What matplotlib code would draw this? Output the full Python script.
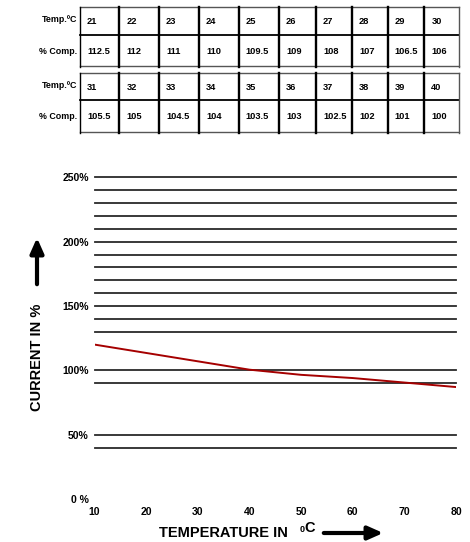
import matplotlib
matplotlib.use("Agg")
import matplotlib.pyplot as plt

plt.rcParams['font.family'] = ['Liberation Sans', 'DejaVu Sans']
plt.rcParams['font.weight'] = 'bold'

# compensation tables
temps_a = ['21', '22', '23', '24', '25', '26', '27', '28', '29', '30']
comp_a = ['112.5', '112', '111', '110', '109.5', '109', '108', '107', '106.5', '106']
temps_b = ['31', '32', '33', '34', '35', '36', '37', '38', '39', '40']
comp_b = ['105.5', '105', '104.5', '104', '103.5', '103', '102.5', '102', '101', '100']
row_labels = ['Temp.ºC', '% Comp.']

# derating curve
curve_temp = [10, 20, 30, 40, 50, 60, 70, 80]
curve_pct = [120, 113.5, 107, 100.5, 96.5, 94, 90.5, 87]
grid_levels = [250, 240, 230, 220, 210, 200, 190, 180, 170, 160, 150, 140, 130, 100, 90, 50, 40]
y_ticks = [0, 50, 100, 150, 200, 250]
y_labels = ['0 %', '50%', '100%', '150%', '200%', '250%']
x_ticks = [10, 20, 30, 40, 50, 60, 70, 80]

W, H = 470, 542
fig = plt.figure(figsize=(W / 100, H / 100), dpi=100)

# overlay axes in pixel coords for tables and labels
ov = fig.add_axes([0, 0, 1, 1])
ov.set_xlim(0, W)
ov.set_ylim(H, 0)
ov.axis('off')

col_edges = [80, 119.3, 159, 199, 238.7, 279, 316, 352, 387.7, 424.3, 458.7]


def draw_table(top, mid, bottom, temps, comps):
    left, right = col_edges[0], col_edges[-1]
    ov.plot([left, right], [top, top], color='#555555', lw=1.0)
    ov.plot([left, right], [bottom, bottom], color='#555555', lw=1.0)
    ov.plot([left, right], [mid, mid], color='black', lw=1.3)
    for i, x in enumerate(col_edges):
        lw = 1.0 if i in (0, len(col_edges) - 1) else 1.7
        c = '#555555' if i == len(col_edges) - 1 else 'black'
        ov.plot([x, x], [top, bottom + 1], color=c, lw=lw)
    for i in range(len(temps)):
        x0 = col_edges[i] + 7
        ov.text(x0, (top + mid) / 2 + 1, temps[i], fontsize=6.7,
                ha='left', va='center')
        ov.text(x0, (mid + bottom) / 2 + 1, comps[i], fontsize=6.7,
                ha='left', va='center')
    ov.text(77.5, (top + mid) / 2 - 1, row_labels[0], fontsize=6.4,
            ha='right', va='center')
    ov.text(77.5, (mid + bottom) / 2 + 1, row_labels[1], fontsize=6.4,
            ha='right', va='center')


draw_table(7, 34.7, 66, temps_a, comp_a)
draw_table(73, 100, 131.7, temps_b, comp_b)

# chart axes
ax = fig.add_axes([94.5 / W, (H - 499) / H, (456 - 94.5) / W, (499 - 177.3) / H])
ax.set_xlim(10, 80)
ax.set_ylim(0, 250)
for v in grid_levels:
    ax.axhline(v, color='#2a2a2a', lw=1.3, clip_on=False)
ax.plot(curve_temp, curve_pct, color='#a50000', lw=1.4)
for s in ax.spines.values():
    s.set_visible(False)
ax.set_yticks(y_ticks)
ax.set_yticklabels(y_labels)
ax.set_xticks(x_ticks)
ax.tick_params(length=0, labelsize=7.5)
ax.tick_params(axis='y', pad=4)
ax.tick_params(axis='x', pad=6)
ax.patch.set_alpha(0)

# axis titles with arrows
ov.text(223, 533, 'TEMPERATURE IN', fontsize=10.5, ha='center', va='center')
ov.text(302, 530, '0', fontsize=6.5, ha='center', va='center')
ov.text(310, 528, 'C', fontsize=10.5, ha='center', va='center')
ov.annotate('', xy=(386, 533), xytext=(321, 533),
            arrowprops=dict(arrowstyle='-|>,head_length=0.9,head_width=0.4',
                            color='black', lw=3))

ov.text(37, 357, 'CURRENT IN %', fontsize=10.5, rotation=90,
        ha='center', va='center')
ov.annotate('', xy=(37, 235), xytext=(37, 287),
            arrowprops=dict(arrowstyle='-|>,head_length=0.9,head_width=0.4',
                            color='black', lw=3))

fig.savefig('out.png', dpi=100)
